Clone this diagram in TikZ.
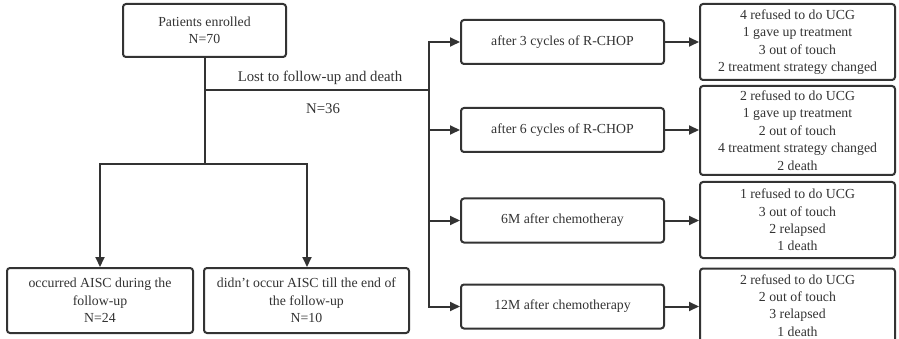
\documentclass[tikz,border=0pt]{standalone}
\usepackage{fontspec}
\setmainfont{Liberation Serif}
\usetikzlibrary{arrows.meta}
\definecolor{ink}{HTML}{333333}
\tikzset{
  box/.style={draw=ink, line width=2pt, rounded corners=3pt, align=center,
    text=ink, inner sep=0pt, font=\fontsize{13.8}{17.4}\selectfont},
  conn/.style={draw=ink, line width=2pt},
  arr/.style={conn, -{Triangle[length=10pt,width=9pt]}},
  lbl/.style={text=ink, inner sep=0pt, font=\fontsize{14.8}{17}\selectfont}
}
\begin{document}
\begin{tikzpicture}[x=1pt,y=-1pt]
\useasboundingbox (0,0) rectangle (899,339);
\fill[white] (0,0) rectangle (899,339);
% top
\node[box, minimum width=163pt, minimum height=53pt] (top) at (204.5,30.5) {Patients enrolled\\N=70};
% bottom-left boxes
\node[box, minimum width=186pt, minimum height=65pt] (occ) at (100,300.5) {occurred AISC during the\\follow-up\\N=24};
\node[box, minimum width=205pt, minimum height=65pt] (nocc) at (306.5,300.5) {didn\symbol{39}t occur AISC till the end of\\the follow-up\\N=10};
% middle boxes
\node[box, minimum width=203pt, minimum height=44pt] (m1) at (562.5,42) {after 3 cycles of R-CHOP};
\node[box, minimum width=203pt, minimum height=44pt] (m2) at (562.5,130) {after 6 cycles of R-CHOP};
\node[box, minimum width=203pt, minimum height=44pt] (m3) at (562.5,220.5) {6M after chemotheray};
\node[box, minimum width=203pt, minimum height=44pt] (m4) at (562.5,306.5) {12M after chemotherapy};
% right boxes
\node[box, minimum width=195pt, minimum height=76pt] (r1) at (797.5,42) {4 refused to do UCG\\1 gave up treatment\\3 out of touch\\2 treatment strategy changed};
\node[box, minimum width=195pt, minimum height=89pt] (r2) at (797.5,130.5) {2 refused to do UCG\\1 gave up treatment\\2 out of touch\\4 treatment strategy changed\\2 death};
\node[box, minimum width=195pt, minimum height=76pt] (r3) at (797.5,220) {1 refused to do UCG\\3 out of touch\\2 relapsed\\1 death};
\node[box, minimum width=195pt, minimum height=74pt] (r4) at (797.5,305.5) {2 refused to do UCG\\2 out of touch\\3 relapsed\\1 death};
% junctions
\coordinate (jl) at (205,90);
\coordinate (jb) at (205,164);
\coordinate (bl) at (100,164);
\coordinate (br) at (307,164);
\coordinate (vt) at (429,42);
\coordinate (vb) at (429,306.5);
\coordinate (vm) at (429,90);
% trunk
\draw[conn] (top.south -| jb) -- (jb);
\draw[conn, line cap=rect] (bl) -- (br);
\draw[arr] (bl) -- (occ.north -| bl);
\draw[arr] (br) -- (nocc.north -| br);
\draw[conn] (jl) -- (vm);
\draw[conn, line cap=rect] (vt) -- (vb);
\draw[arr] (vt) -- (m1.west);
\draw[arr] (m2.west -| vt) -- (m2.west);
\draw[arr] (m3.west -| vt) -- (m3.west);
\draw[arr] (vb) -- (m4.west);
\draw[arr] (m1.east) -- (m1.east -| r1.west);
\draw[arr] (m2.east) -- (m2.east -| r2.west);
\draw[arr] (m3.east) -- (m3.east -| r3.west);
\draw[arr] (m4.east) -- (m4.east -| r4.west);
% labels
\node[lbl] (lost) at (320,78) {Lost to follow-up and death};
\node[lbl] (n36) at (323,109) {N=36};
\end{tikzpicture}
\end{document}
